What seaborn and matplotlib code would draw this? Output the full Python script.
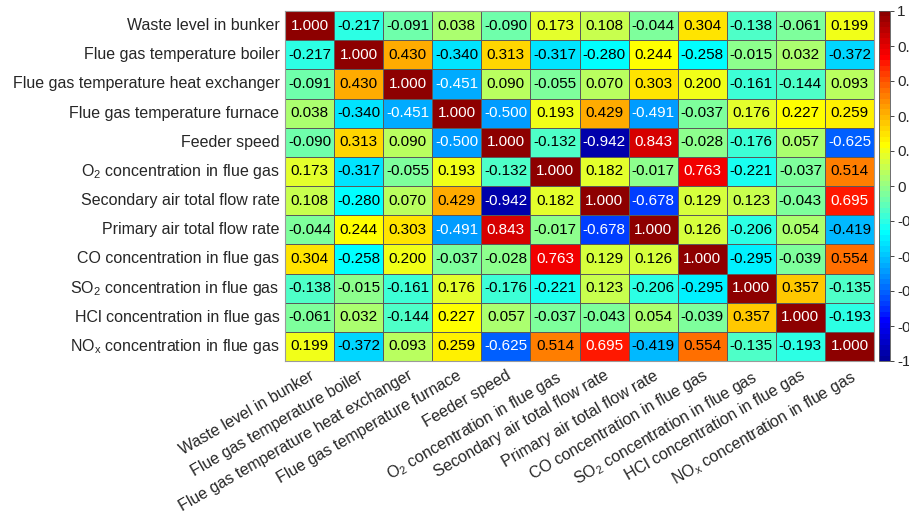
import numpy as np
import pandas as pd
import matplotlib
matplotlib.use("Agg")
import matplotlib.pyplot as plt
from matplotlib.colors import ListedColormap
import seaborn as sns

variables = [
    "Waste level in bunker",
    "Flue gas temperature boiler",
    "Flue gas temperature heat exchanger",
    "Flue gas temperature furnace",
    "Feeder speed",
    r"O$_\mathregular{2}$ concentration in flue gas",
    "Secondary air total flow rate",
    "Primary air total flow rate",
    "CO concentration in flue gas",
    r"SO$_\mathregular{2}$ concentration in flue gas",
    "HCl concentration in flue gas",
    r"NO$_\mathregular{x}$ concentration in flue gas",
]

r_waste = [1.000, -0.217, -0.091, 0.038, -0.090, 0.173, 0.108, -0.044, 0.304, -0.138, -0.061, 0.199]
r_boiler = [-0.217, 1.000, 0.430, -0.340, 0.313, -0.317, -0.280, 0.244, -0.258, -0.015, 0.032, -0.372]
r_hex = [-0.091, 0.430, 1.000, -0.451, 0.090, -0.055, 0.070, 0.303, 0.200, -0.161, -0.144, 0.093]
r_furnace = [0.038, -0.340, -0.451, 1.000, -0.500, 0.193, 0.429, -0.491, -0.037, 0.176, 0.227, 0.259]
r_feeder = [-0.090, 0.313, 0.090, -0.500, 1.000, -0.132, -0.942, 0.843, -0.028, -0.176, 0.057, -0.625]
r_o2 = [0.173, -0.317, -0.055, 0.193, -0.132, 1.000, 0.182, -0.017, 0.763, -0.221, -0.037, 0.514]
r_secair = [0.108, -0.280, 0.070, 0.429, -0.942, 0.182, 1.000, -0.678, 0.129, 0.123, -0.043, 0.695]
r_primair = [-0.044, 0.244, 0.303, -0.491, 0.843, -0.017, -0.678, 1.000, 0.126, -0.206, 0.054, -0.419]
r_co = [0.304, -0.258, 0.200, -0.037, -0.028, 0.763, 0.129, 0.126, 1.000, -0.295, -0.039, 0.554]
r_so2 = [-0.138, -0.015, -0.161, 0.176, -0.176, -0.221, 0.123, -0.206, -0.295, 1.000, 0.357, -0.135]
r_hcl = [-0.061, 0.032, -0.144, 0.227, 0.057, -0.037, -0.043, 0.054, -0.039, 0.357, 1.000, -0.193]
r_nox = [0.199, -0.372, 0.093, 0.259, -0.625, 0.514, 0.695, -0.419, 0.554, -0.135, -0.193, 1.000]

cbar_ticks = [-1, -0.8, -0.6, -0.4, -0.2, 0, 0.2, 0.4, 0.6, 0.8, 1]

corr = pd.DataFrame(
    [r_waste, r_boiler, r_hex, r_furnace, r_feeder, r_o2,
     r_secair, r_primair, r_co, r_so2, r_hcl, r_nox],
    index=variables, columns=variables,
)


def classic_jet(n=64, gamma=0.85):
    """64-step jet palette (the classic MATLAB construction), slightly brightened."""
    m = int(np.ceil(n / 4))
    u = np.concatenate([np.arange(1, m + 1) / m, np.ones(m - 1),
                        np.arange(m, 0, -1) / m])
    g = int(np.ceil(m / 2)) - (1 if n % 4 == 1 else 0) + np.arange(1, len(u) + 1)
    r = g + m
    b = g - m
    rgb = np.zeros((n, 3))
    for ch, idx in enumerate((r, g, b)):
        keep = (idx >= 1) & (idx <= n)
        rgb[idx[keep] - 1, ch] = u[keep]
    return ListedColormap(rgb ** gamma, name="classic_jet")


sns.set_theme(style="white")
plt.rcParams["font.family"] = ["Liberation Sans", "DejaVu Sans"]
plt.rcParams["mathtext.fontset"] = "custom"
plt.rcParams["mathtext.rm"] = "Liberation Sans"
plt.rcParams["mathtext.it"] = "Liberation Sans:italic"
plt.rcParams["mathtext.bf"] = "Liberation Sans:bold"
plt.rcParams["axes.unicode_minus"] = False

W, H = 909, 517
fig = plt.figure(figsize=(W / 100, H / 100), dpi=100)
ax = fig.add_axes([285 / W, 1 - 361 / H, 589 / W, 350 / H])
cax = fig.add_axes([879 / W, 1 - 361 / H, 11 / W, 350 / H])

sns.heatmap(
    corr, ax=ax, cbar_ax=cax, cmap=classic_jet(), vmin=-1, vmax=1,
    annot=True, fmt=".3f", annot_kws={"size": 11},
    linewidths=0.6, linecolor="#5a5a5a",
    cbar_kws={"ticks": cbar_ticks},
)

# label colour: white on the dark ends of the scale
vals = corr.values.ravel()
for txt, v in zip(ax.texts, vals):
    txt.set_color("white" if (v < -0.44 or v > 0.6) else "black")

ax.tick_params(axis="both", length=0, labelsize=11.5, colors="#262626")
ax.set_xticklabels(ax.get_xticklabels(), rotation=30, ha="right",
                   rotation_mode="anchor")
ax.set_yticklabels(ax.get_yticklabels(), rotation=0)
ax.tick_params(axis="x", pad=5)
ax.tick_params(axis="y", pad=4)
for s in ax.spines.values():
    s.set_visible(True)
    s.set_color("#9a9a9a")
    s.set_linewidth(0.8)

cax.set_yticklabels([f"{t:g}" for t in cbar_ticks])
cax.tick_params(labelsize=11, colors="#262626", length=3, width=0.6, pad=2)
cbar = ax.collections[0].colorbar
cbar.outline.set_visible(True)
cbar.outline.set_edgecolor("#555555")
cbar.outline.set_linewidth(0.6)

fig.savefig("out.png", dpi=100)
